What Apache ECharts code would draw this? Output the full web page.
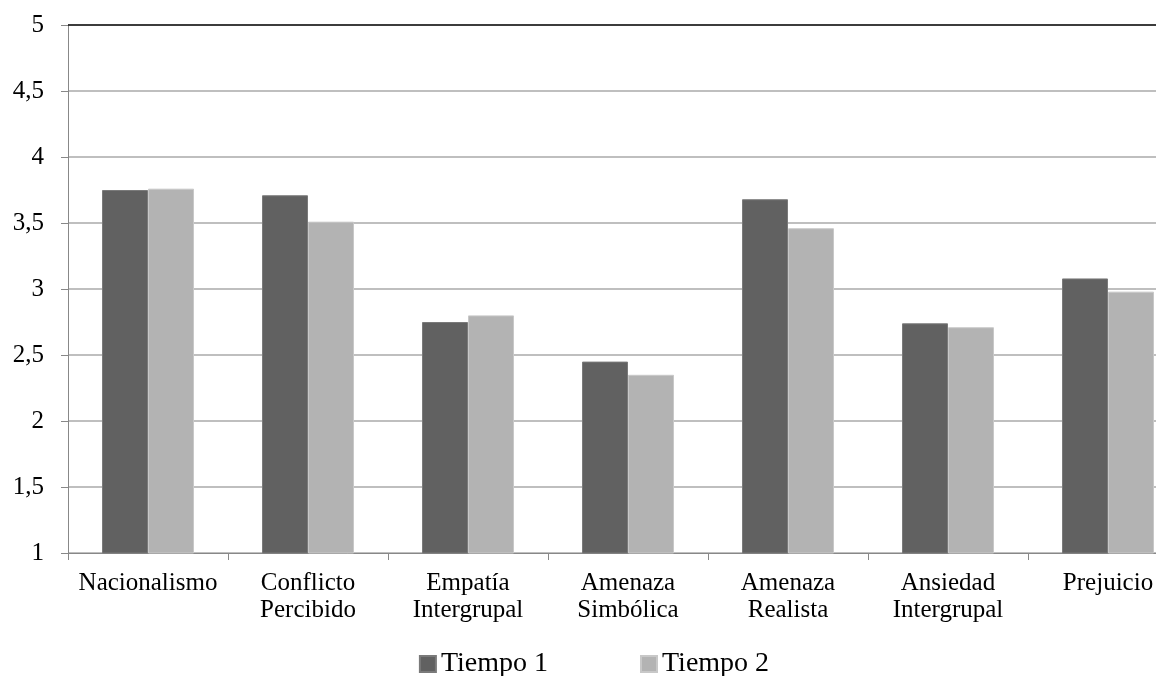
<!DOCTYPE html>
<html><head><meta charset="utf-8">
<script src="https://cdn.jsdelivr.net/npm/echarts@6/dist/echarts.min.js"></script>
<style>html,body{margin:0;padding:0;background:#fff;overflow:hidden}#c{width:1188px;height:676px}</style>
</head><body><div id="c"></div>
<script>
const categories = ["Nacionalismo", "Conflicto\nPercibido", "Empatía\nIntergrupal", "Amenaza\nSimbólica", "Amenaza\nRealista", "Ansiedad\nIntergrupal", "Prejuicio"];
const tiempo1 = [3.75, 3.71, 2.75, 2.45, 3.68, 2.74, 3.08];
const tiempo2 = [3.76, 3.51, 2.80, 2.35, 3.46, 2.71, 2.98];
const seriesNames = ["Tiempo 1", "Tiempo 2"];
const yTicks = { min: 1, max: 5, interval: 0.5 };

const font = "'Liberation Serif', 'DejaVu Serif', serif";
const chart = echarts.init(document.getElementById('c'), null, { renderer: 'canvas' });
chart.setOption({
  animation: false,
  backgroundColor: '#fff',
  grid: { left: 68, top: 25, right: 0, bottom: 123, containLabel: false },
  legend: {
    top: 645, left: 'center', itemWidth: 16, itemHeight: 16, itemGap: 92,
    textStyle: { fontFamily: font, fontSize: 28, color: '#000' },
    icon: 'rect',
    data: seriesNames
  },
  xAxis: {
    type: 'category', data: categories,
    axisLine: { lineStyle: { color: '#888', width: 1 } },
    axisTick: { show: true, length: 7, lineStyle: { color: '#888' } },
    axisLabel: { fontFamily: font, fontSize: 25, color: '#000', margin: 17, lineHeight: 27, interval: 0 }
  },
  yAxis: {
    type: 'value', min: yTicks.min, max: yTicks.max, interval: yTicks.interval,
    axisLine: { show: true, lineStyle: { color: '#888' } },
    axisTick: { show: true, length: 7, lineStyle: { color: '#888' } },
    splitLine: { lineStyle: { color: '#aaa', width: 1.5 } },
    axisLabel: { fontFamily: font, fontSize: 25, color: '#000', margin: 24,
      formatter: v => String(v).replace('.', ',') }
  },
  series: [
    { name: seriesNames[0], type: 'bar', data: tiempo1, barWidth: 46, barGap: '0%',
      itemStyle: { color: '#616161', borderColor: '#7a7a7a', borderWidth: 1 },
      markLine: { silent: true, symbol: 'none', label: { show: false },
        lineStyle: { color: '#111', type: 'solid', width: 1.5 },
        data: [{ yAxis: yTicks.max }] } },
    { name: seriesNames[1], type: 'bar', data: tiempo2, barWidth: 46,
      itemStyle: { color: '#b3b3b3', borderColor: '#c8c8c8', borderWidth: 1 } }
  ]
});
</script></body></html>
